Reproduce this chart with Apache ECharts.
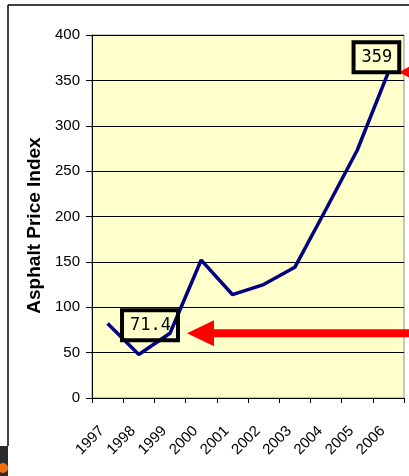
<!DOCTYPE html>
<html>
<head>
<meta charset="utf-8">
<script src="https://cdn.jsdelivr.net/npm/echarts@6/dist/echarts.min.js"></script>
<style>
html,body{margin:0;padding:0;background:#fff;}
#c{width:409px;height:476px;}
</style>
</head>
<body>
<div id="c"></div>
<script>
const years = ['1997','1998','1999','2000','2001','2002','2003','2004','2005','2006'];
const priceIndex = [82, 48, 71.4, 152, 114, 125, 144, 208, 273, 359];
const yTicks = [0, 50, 100, 150, 200, 250, 300, 350, 400];
const axisTitle = 'Asphalt Price Index';

const chart = echarts.init(document.getElementById('c'), null, {renderer: 'canvas'});
const option = {
  animation: false,
  backgroundColor: '#ffffff',
  grid: {left: 92, top: 35, right: 5, bottom: 78, show: true, backgroundColor: '#FFFFCC', borderColor: '#8c8c8c', borderWidth: 1},
  xAxis: {
    type: 'category',
    data: years,
    boundaryGap: true,
    axisLine: {lineStyle: {color: '#000', width: 1}},
    axisTick: {show: true, length: 5, lineStyle: {color: '#000'}},
    axisLabel: {rotate: 45, margin: 25, padding: [0, 8, 0, 0], color: '#000', fontSize: 15, fontFamily: 'Liberation Sans, Arial'}
  },
  yAxis: {
    type: 'value',
    min: yTicks[0],
    max: yTicks[yTicks.length - 1],
    interval: 50,
    name: axisTitle,
    nameLocation: 'middle',
    nameGap: 47,
    nameTextStyle: {fontSize: 19, fontWeight: 'bold', color: '#000', fontFamily: 'Liberation Sans, Arial', padding: [0, 18, 0, 0]},
    axisLine: {show: true, lineStyle: {color: '#000', width: 1}},
    axisTick: {show: true, length: 6, lineStyle: {color: '#000'}},
    axisLabel: {margin: 12, color: '#000', fontSize: 15, fontFamily: 'Liberation Sans, Arial'},
    splitLine: {show: true, lineStyle: {color: '#000', width: 1}}
  },
  series: [{
    type: 'line',
    data: priceIndex,
    showSymbol: false,
    symbol: 'none',
    lineStyle: {color: '#000080', width: 3.5},
    markPoint: {
      symbol: 'rect',
      symbolSize: 0,
      data: [
        {coord: [2, priceIndex[2]], value: priceIndex[2],
         label: {show: true, formatter: '71.4', offset: [-20, -8]}},
        {coord: [9, priceIndex[9]], value: priceIndex[9],
         label: {show: true, formatter: '359', offset: [-12, -15]}}
      ],
      label: {
        show: true, color: '#000', fontSize: 17, fontFamily: 'DejaVu Sans Mono, monospace',
        borderColor: '#000', borderWidth: 2, padding: [7, 7, 6, 8], backgroundColor: 'transparent'
      }
    }
  }]
};
chart.setOption(option);

const yLow = chart.convertToPixel({yAxisIndex: 0}, priceIndex[2]);
const yHigh = chart.convertToPixel({yAxisIndex: 0}, priceIndex[9]);
const tipLowX = 187;
chart.setOption({
  graphic: [
    {type: 'line', shape: {x1: 8, y1: 5, x2: 409, y2: 5}, style: {stroke: '#000', lineWidth: 1.5}},
    {type: 'line', shape: {x1: 8, y1: 5, x2: 8, y2: 446}, style: {stroke: '#000', lineWidth: 1.5}},
    {type: 'rect', shape: {x: 0, y: 446, width: 8, height: 30}, style: {fill: '#2b2b2b'}},
    {type: 'circle', shape: {cx: 3, cy: 468, r: 5}, style: {fill: '#f07010'}},
    {type: 'rect', shape: {x: tipLowX + 24, y: yLow - 4, width: 409 - tipLowX - 24, height: 8}, style: {fill: '#ff0000'}},
    {type: 'polygon', shape: {points: [[tipLowX, yLow], [tipLowX + 27, yLow - 13], [tipLowX + 27, yLow + 13]]}, style: {fill: '#ff0000'}},
    {type: 'polygon', shape: {points: [[399, yHigh + 0], [412, yHigh - 7], [412, yHigh + 7]]}, style: {fill: '#ff0000'}}
  ]
});
</script>
</body>
</html>
